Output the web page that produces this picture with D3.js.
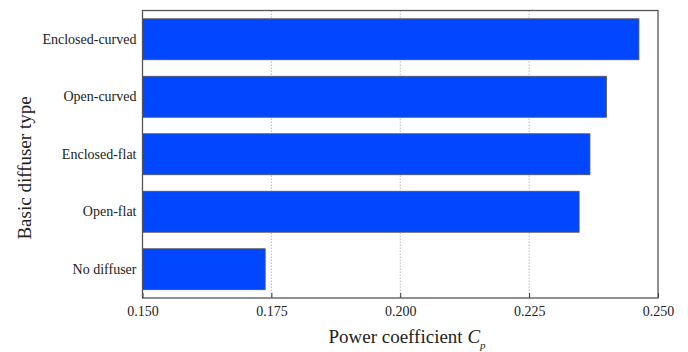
<!DOCTYPE html>
<html>
<head>
<meta charset="utf-8">
<script src="https://cdn.jsdelivr.net/npm/d3@7"></script>
<style>
  html, body { margin: 0; padding: 0; background: #fff; }
  svg { display: block; }
  text { font-family: "Liberation Serif", "Times New Roman", serif; fill: #222; }
</style>
</head>
<body>
<svg id="chart" width="688" height="352"></svg>
<script>
// Diffuser types, top to bottom
const categories = ["Enclosed-curved", "Open-curved", "Enclosed-flat", "Open-flat", "No diffuser"];
// Power coefficient Cp for each type
const cpValues = [0.2463, 0.2400, 0.2368, 0.2347, 0.1738];
const xTicks = [0.150, 0.175, 0.200, 0.225, 0.250];
const xDomain = [0.150, 0.250];

const svg = d3.select("#chart");
const margin = { left: 142.5, right: 30, top: 10.5, bottom: 54 };
const W = 688, H = 352;
const x0 = margin.left, x1 = W - margin.right;
const y0 = margin.top, y1 = H - margin.bottom;
const serif = '"Liberation Serif", "Times New Roman", serif';

const x = d3.scaleLinear().domain(xDomain).range([x0, x1]);
const y = d3.scaleBand().domain(categories).range([y0, y1])
  .paddingInner(0.287).paddingOuter(0.144);

// dotted vertical grid lines
svg.append("g").selectAll("line")
  .data(xTicks.slice(1, -1))
  .join("line")
  .attr("x1", d => x(d)).attr("x2", d => x(d))
  .attr("y1", y0).attr("y2", y1)
  .attr("stroke", "#aaa").attr("stroke-width", 0.8)
  .attr("stroke-dasharray", "1.5,1.5");

// bars
svg.append("g").selectAll("rect")
  .data(categories.map((c, i) => ({ c, v: cpValues[i] })))
  .join("rect")
  .attr("x", x(xDomain[0]))
  .attr("y", d => y(d.c))
  .attr("width", d => x(d.v) - x(xDomain[0]))
  .attr("height", y.bandwidth())
  .attr("fill", "#0047ff")
  .attr("stroke", "#555")
  .attr("stroke-width", 0.8);

// bottom axis with inward ticks
const xAxis = d3.axisBottom(x).tickValues(xTicks).tickFormat(d3.format(".3f"))
  .tickSizeInner(-5).tickSizeOuter(0).tickPadding(8);
const gx = svg.append("g").attr("transform", `translate(0,${y1})`).call(xAxis)
  .attr("font-family", null).attr("font-size", null);
gx.select(".domain").remove();
gx.selectAll(".tick line").attr("stroke", "#333").attr("stroke-width", 1);
gx.selectAll(".tick text").style("font-size", "14px").style("fill", "#222")
  .style("font-family", serif);

// left axis labels
const yAxis = d3.axisLeft(y).tickSize(0).tickPadding(6);
const gy = svg.append("g").attr("transform", `translate(${x0},0)`).call(yAxis)
  .attr("font-family", null).attr("font-size", null);
gy.select(".domain").remove();
gy.selectAll(".tick text").style("font-size", "14px").style("fill", "#222")
  .style("font-family", serif);

// plot frame
svg.append("rect")
  .attr("x", x0).attr("y", y0)
  .attr("width", x1 - x0).attr("height", y1 - y0)
  .attr("fill", "none").attr("stroke", "#555").attr("stroke-width", 1.3);

// x axis title
const xt = svg.append("text")
  .attr("x", 407).attr("y", 343)
  .attr("text-anchor", "middle").style("font-size", "19px");
xt.append("tspan").text("Power coefficient ");
xt.append("tspan").attr("font-style", "italic").text("C");
xt.append("tspan").attr("font-style", "italic").style("font-size", "11px").attr("dy", 6).text("p");

// y axis title
svg.append("text")
  .attr("transform", "translate(31,168) rotate(-90)")
  .attr("text-anchor", "middle").style("font-size", "19px")
  .text("Basic diffuser type");
</script>
</body>
</html>
